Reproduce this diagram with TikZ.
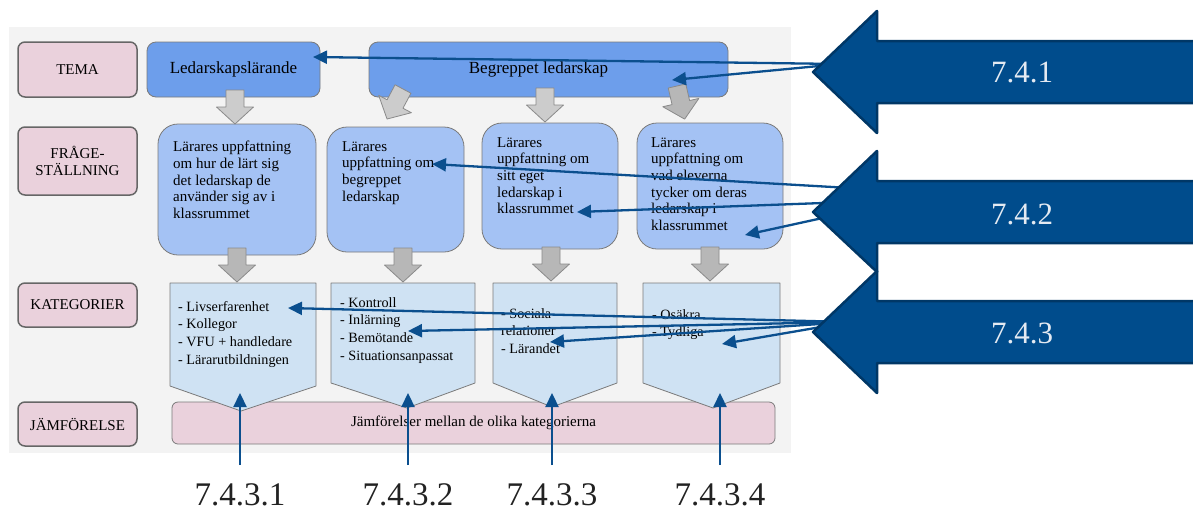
\documentclass[tikz,border=0pt]{standalone}
\usepackage{fontspec}
\setmainfont{Liberation Serif}
\usepackage{tikz}
\usetikzlibrary{arrows.meta}

\definecolor{bgGray}{HTML}{F3F3F3}
\definecolor{pinkFill}{HTML}{EAD1DC}
\definecolor{lblEdge}{HTML}{666666}
\definecolor{boxEdge}{HTML}{7A7A7A}
\definecolor{temaBlue}{HTML}{6D9EEB}
\definecolor{fragaBlue}{HTML}{A4C2F4}
\definecolor{katBlue}{HTML}{CFE2F3}
\definecolor{grayLight}{HTML}{CCCCCC}
\definecolor{grayDark}{HTML}{B7B7B7}
\definecolor{arrEdge}{HTML}{8A8A8A}
\definecolor{arrowBlue}{HTML}{0B4F8E}
\definecolor{bigBlue}{HTML}{004C8C}
\definecolor{bigEdge}{HTML}{003766}
\definecolor{bigText}{HTML}{E4EAF2}
\definecolor{numText}{HTML}{222222}

\begin{document}
\begin{tikzpicture}[x=1pt,y=-1pt,line join=round,
  lbl/.style={draw=lblEdge,line width=1.5pt,fill=pinkFill,rounded corners=7pt,
    minimum width=119pt,align=center,inner sep=0pt,font=\fontsize{15}{17}\selectfont},
  tema/.style={draw=boxEdge,line width=0.8pt,fill=temaBlue,rounded corners=9pt,
    minimum height=55pt,inner sep=0pt,font=\fontsize{17}{20}\selectfont},
  fraga/.style={draw=boxEdge,line width=0.8pt,fill=fragaBlue,rounded corners=20pt,inner sep=0pt},
  qtxt/.style={anchor=north west,align=left,inner sep=0pt,font=\fontsize{15}{16.7}\selectfont},
  kat/.style={draw=boxEdge,line width=0.8pt,fill=katBlue},
  ktxt/.style={anchor=north west,align=left,inner sep=0pt,font=\fontsize{14.2}{17.7}\selectfont},
  jmf/.style={draw=boxEdge,line width=0.8pt,fill=pinkFill,rounded corners=6pt,
    minimum width=603pt,minimum height=42pt,inner sep=0pt,font=\fontsize{15}{17}\selectfont},
  garrow/.pic={\draw[pic actions,draw=arrEdge,line width=0.8pt]
    (-9,0) -- (9,0) -- (9,17) -- (18.5,17) -- (0,34) -- (-18.5,17) -- (-9,17) -- cycle;},
  thinarr/.style={draw=arrowBlue,line width=2.3pt,-{Triangle[length=14pt,width=13pt]}},
  bigarr/.style={draw=bigEdge,line width=2.5pt,fill=bigBlue},
  bigtxt/.style={text=bigText,font=\fontsize{31}{31}\selectfont,inner sep=0pt},
  numtxt/.style={text=numText,font=\fontsize{33}{33}\selectfont,inner sep=0pt}]

\useasboundingbox (0,0) rectangle (1193,512);

\fill[bgGray] (9,27) rectangle (791,453);

\node[lbl,minimum height=55pt] (tema) at (77.5,69.5) {TEMA};
\node[lbl,minimum height=68pt] (fraga) at (77.5,161) {FRÅGE-\\STÄLLNING};
\node[lbl,minimum height=44pt] (kategorier) at (77.5,305) {KATEGORIER};
\node[lbl,minimum height=44pt] (jamforelse) at (77.5,424) {JÄMFÖRELSE};

\node[tema,minimum width=173pt] (ledlar) at (233.5,69.5) {Ledarskapslärande};
\node[tema,minimum width=359pt] (begrepp) at (548.5,69.5) {Begreppet ledarskap\hspace*{20pt}};

\node[fraga,minimum width=158pt,minimum height=131pt] (q1) at (237,189.5) {};
\node[fraga,minimum width=137pt,minimum height=125pt] (q2) at (395.5,189.5) {};
\node[fraga,minimum width=136pt,minimum height=126pt] (q3) at (550,186) {};
\node[fraga,minimum width=146pt,minimum height=126pt] (q4) at (710,186) {};

\node[qtxt] (q1txt) at (173,141) {Lärares uppfattning\\om hur de lärt sig\\det ledarskap de\\använder sig av i\\klassrummet};
\node[qtxt] (q2txt) at (342,141) {Lärares\\uppfattning om\\begreppet\\ledarskap};
\node[qtxt] (q3txt) at (497,137) {Lärares\\uppfattning om\\sitt eget\\ledarskap i\\klassrummet};
\node[qtxt] (q4txt) at (651,137) {Lärares\\uppfattning om\\vad eleverna\\tycker om deras\\ledarskap i\\klassrummet};

\node[jmf] (jmfbox) at (473.5,423) {Jämförelser mellan de olika kategorierna};

\draw[kat] (170,283) -- (316,283) -- (316,386) -- (241,411) -- (170,386) -- cycle;
\draw[kat] (331,283) -- (475,283) -- (475,383) -- (407,408) -- (331,383) -- cycle;
\draw[kat] (493,283) -- (617,283) -- (617,383) -- (552,407) -- (493,383) -- cycle;
\draw[kat] (643,283) -- (780,283) -- (780,383) -- (713,408) -- (643,383) -- cycle;

\node[ktxt] (k1txt) at (178,301) {- Livserfarenhet\\- Kollegor\\- VFU + handledare\\- Lärarutbildningen};
\node[ktxt] (k2txt) at (340,297) {- Kontroll\\- Inlärning\\- Bemötande\\- Situationsanpassat};
\node[ktxt] (k3txt) at (501,308) {- Sociala\\relationer\\- Lärandet};
\node[ktxt] (k4txt) at (652,309) {- Osäkra\\- Tydliga};

\pic[fill=grayLight] at (235,90) {garrow};
\pic[fill=grayLight,rotate=-28] at (403,89) {garrow};
\pic[fill=grayLight] at (545,88) {garrow};
\pic[fill=grayDark,rotate=13] at (677,86) {garrow};

\pic[fill=grayDark] at (237,248) {garrow};
\pic[fill=grayDark] at (403,248) {garrow};
\pic[fill=grayDark] at (551,247) {garrow};
\pic[fill=grayDark] at (710,247) {garrow};

\coordinate (sA) at (840,64);
\coordinate (sB1) at (850,188);
\coordinate (sB2) at (850,202);
\coordinate (sB3) at (850,212);
\coordinate (sC) at (850,322);

\coordinate (tA1) at (313,57);
\coordinate (tA2) at (672,80);
\coordinate (tB1) at (432,164);
\coordinate (tB2) at (577,212);
\coordinate (tB3) at (745,235);
\coordinate (tC1) at (288,308);
\coordinate (tC2) at (408,331);
\coordinate (tC3) at (550,342);
\coordinate (tC4) at (722,344);

\draw[thinarr] (sA) -- (tA1);
\draw[thinarr] (sA) -- (tA2);
\draw[thinarr] (sB1) -- (tB1);
\draw[thinarr] (sB2) -- (tB2);
\draw[thinarr] (sB3) -- (tB3);
\draw[thinarr] (sC) -- (tC1);
\draw[thinarr] (sC) -- (tC2);
\draw[thinarr] (sC) -- (tC3);
\draw[thinarr] (sC) -- (tC4);

\draw[bigarr] (1210,301) -- (877,301) -- (877,271) -- (813,332) -- (877,393) -- (877,363) -- (1210,363);
\draw[bigarr] (1210,181) -- (877,181) -- (877,151) -- (813,212) -- (877,272) -- (877,243) -- (1210,243);
\draw[bigarr] (1210,41) -- (877,41) -- (877,11) -- (813,72) -- (877,133) -- (877,103) -- (1210,103);

\node[bigtxt] (n741) at (1022,72) {7.4.1};
\node[bigtxt] (n742) at (1022,214) {7.4.2};
\node[bigtxt] (n743) at (1022,333) {7.4.3};

\node[numtxt] (n1) at (240,495) {7.4.3.1};
\node[numtxt] (n2) at (408,495) {7.4.3.2};
\node[numtxt] (n3) at (552,495) {7.4.3.3};
\node[numtxt] (n4) at (720,495) {7.4.3.4};

\coordinate (b1) at (240,465);
\coordinate (b2) at (408,465);
\coordinate (b3) at (552,465);
\coordinate (b4) at (720,465);

\coordinate (e1) at (240,393);
\coordinate (e2) at (408,393);
\coordinate (e3) at (552,393);
\coordinate (e4) at (720,393);

\draw[thinarr] (b1) -- (e1);
\draw[thinarr] (b2) -- (e2);
\draw[thinarr] (b3) -- (e3);
\draw[thinarr] (b4) -- (e4);

\end{tikzpicture}
\end{document}
